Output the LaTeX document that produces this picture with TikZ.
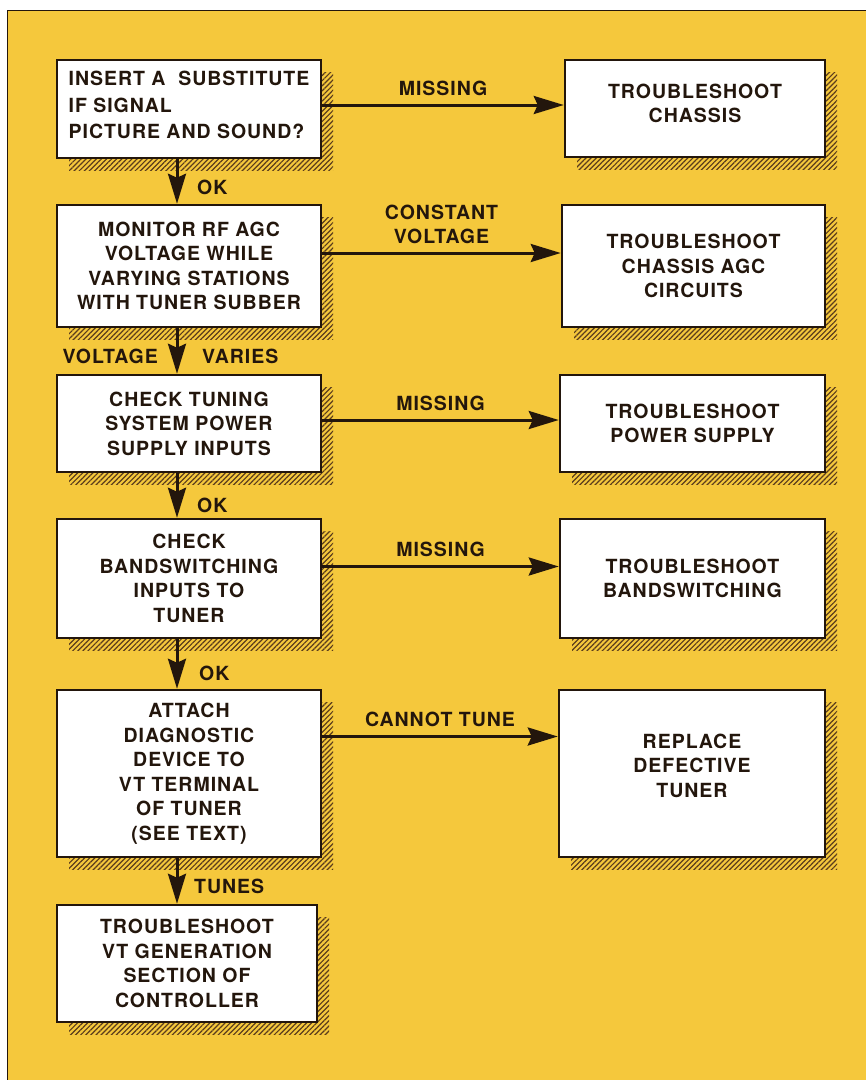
\documentclass[tikz,border=0pt]{standalone}
\usepackage{fontspec}
\setmainfont{TeX Gyre Heros}[LetterSpace=5]
\usetikzlibrary{arrows.meta,patterns.meta,calc,shadows}
\definecolor{bg}{RGB}{245,200,60}
\definecolor{ink}{RGB}{35,22,12}
\definecolor{hatch}{RGB}{90,60,28}
\tikzset{
  boxfont/.style={font=\fontsize{19.5}{24.5}\selectfont\bfseries, text=ink, align=center},
  box/.style={draw=ink, line width=2.5pt, fill=white, inner sep=0pt, boxfont,
    general shadow={shadow xshift=12pt, shadow yshift=-12pt,
      pattern={Lines[angle=45,distance=3.6pt,line width=1.2pt]}, pattern color=hatch}},
  boxtext/.style={boxfont, inner sep=0pt},
  lbl/.style={font=\fontsize{19.5}{24}\selectfont\bfseries, text=ink, inner sep=0pt, align=center},
  conn/.style={draw=ink, line width=3pt, -{Stealth[length=30pt,width=18pt,inset=4pt]}}
}
\begin{document}
\begin{tikzpicture}[x=1pt,y=-1pt]
\useasboundingbox (0,0) rectangle (866,1080);
\fill[white] (0,0) rectangle (866,1080);
\fill[bg] (7,10) rectangle (866,1080);
\draw[ink, line width=1pt] (7,1080) -- (7,10) -- (866,10);

% left column
\node[box, minimum width=264pt, minimum height=98pt] (b1) at (189,109) {};
\node[boxtext, align=left, font=\fontsize{19.5}{26.5}\selectfont\bfseries] (b1t) at ($(b1.center)+(0,-4)$)
  {INSERT A \ SUBSTITUTE\\IF SIGNAL\\PICTURE AND SOUND?};
\node[box, minimum width=264pt, minimum height=122pt] (b2) at (189,266)
  {MONITOR RF AGC\\VOLTAGE WHILE\\VARYING STATIONS\\WITH TUNER SUBBER};
\node[box, minimum width=264pt, minimum height=97pt] (b3) at (189,423.5)
  {CHECK TUNING\\SYSTEM POWER\\SUPPLY INPUTS};
\node[box, minimum width=264pt, minimum height=119pt] (b4) at (189,578.5)
  {CHECK\\BANDSWITCHING\\INPUTS TO\\TUNER};
\node[box, minimum width=264pt, minimum height=167pt] (b5) at (189,773.5)
  {ATTACH\\DIAGNOSTIC\\DEVICE TO\\VT TERMINAL\\OF TUNER\\(SEE TEXT)};
\node[box, minimum width=260pt, minimum height=117pt] (b6) at (187,963.5)
  {TROUBLESHOOT\\VT GENERATION\\SECTION OF\\CONTROLLER};

% right column
\node[box, minimum width=260pt, minimum height=97pt] (r1) at (695,108.5) {};
\node[boxtext] (r1t) at ($(r1.center)+(0,-5)$) {TROUBLESHOOT\\CHASSIS};
\node[box, minimum width=263pt, minimum height=122pt] (r2) at (693.5,266)
  {TROUBLESHOOT\\CHASSIS AGC\\CIRCUITS};
\node[box, minimum width=265pt, minimum height=97pt] (r3) at (692.5,423.5)
  {TROUBLESHOOT\\POWER SUPPLY};
\node[box, minimum width=265pt, minimum height=119pt] (r4) at (692.5,578.5)
  {TROUBLESHOOT\\BANDSWITCHING};
\node[box, minimum width=266pt, minimum height=167pt] (r5) at (692,773.5) {};
\node[boxtext] (r5t) at ($(r5.center)+(0,-8)$) {REPLACE\\DEFECTIVE\\TUNER};

% downward connectors
\draw[conn] ($(b1.south)+(-12,0)$) -- ($(b2.north)+(-12,0)$);
\draw[conn] ($(b2.south)+(-12,0)$) -- ($(b3.north)+(-12,0)$);
\draw[conn] ($(b3.south)+(-12,0)$) -- ($(b4.north)+(-12,0)$);
\draw[conn] ($(b4.south)+(-12,0)$) -- ($(b5.north)+(-12,0)$);
\draw[conn] ($(b5.south)+(-12,0)$) -- ($(b6.north)+(-10,0)$);

\node[lbl, anchor=west] (ok1) at ($(b2.north)+(8,-16)$) {OK};
\node[lbl, anchor=east] (vv1) at ($(b3.north)+(-31,-17)$) {VOLTAGE};
\node[lbl, anchor=west] (vv2) at ($(b3.north)+(13,-17)$) {VARIES};
\node[lbl, anchor=west] (ok3) at ($(b4.north)+(8,-12)$) {OK};
\node[lbl, anchor=west] (ok4) at ($(b5.north)+(10,-15)$) {OK};
\node[lbl, anchor=west] (tun) at ($(b6.north)+(7,-17)$) {TUNES};

% sideways connectors
\coordinate (a1) at ($(b1.east)+(0,-4)$);
\coordinate (a2) at ($(b2.east)+(0,-13)$);
\coordinate (a3) at ($(b3.east)+(0,-3.5)$);
\coordinate (a4) at ($(b4.east)+(0,-12)$);
\coordinate (a5) at ($(b5.east)+(0,-37)$);
\draw[conn] (a1) -- (a1 -| r1.west) node[lbl, midway, above=8pt] {MISSING};
\draw[conn] (a2) -- (a2 -| r2.west) node[lbl, midway, above=8pt] {CONSTANT\\VOLTAGE};
\draw[conn] (a3) -- (a3 -| r3.west) node[lbl, midway, above=8pt] {MISSING};
\draw[conn] (a4) -- (a4 -| r4.west) node[lbl, midway, above=8pt] {MISSING};
\draw[conn] (a5) -- (a5 -| r5.west) node[lbl, midway, above=8pt] {CANNOT TUNE};
\end{tikzpicture}
\end{document}
